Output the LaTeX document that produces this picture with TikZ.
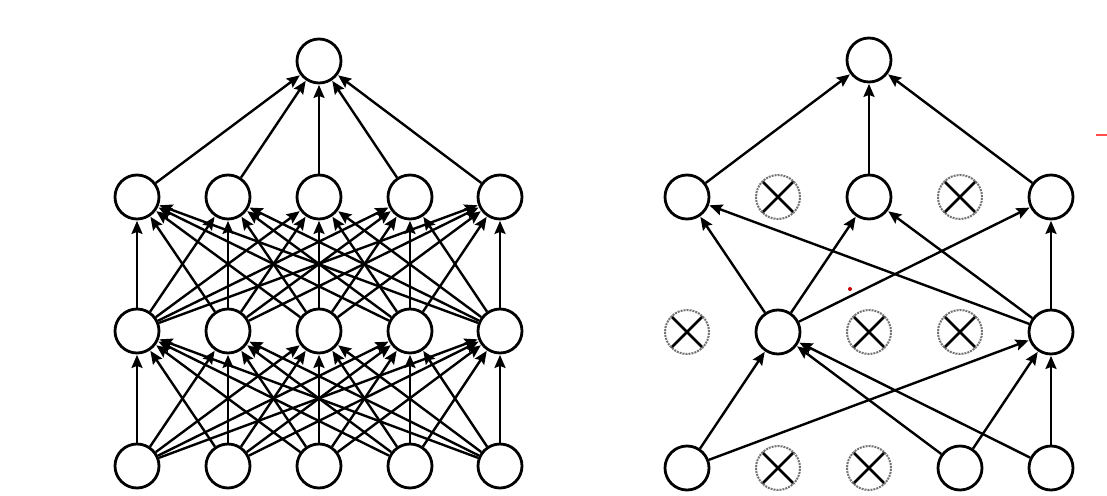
\documentclass[tikz,border=0pt]{standalone}
\usetikzlibrary{arrows.meta}
\begin{document}
\begin{tikzpicture}[x=1pt,y=-1pt,
  neuron/.style={circle,draw=black,line width=2.8pt,fill=white,minimum size=44pt,inner sep=0pt},
  dropped/.style={circle,draw=black!55,densely dotted,line width=2pt,fill=white,minimum size=44pt,inner sep=0pt,
    path picture={\draw[black,solid,line width=2.6pt] (path picture bounding box.south west)--(path picture bounding box.north east)
      (path picture bounding box.north west)--(path picture bounding box.south east);}},
  conn/.style={line width=2.4pt,-{Stealth[length=13pt,width=11pt,inset=2pt]},shorten >=0.5pt}]
\useasboundingbox[fill=white] (0,0) rectangle (1107,495);
% left network
\node[neuron] (Lt) at (319,61) {};
\foreach \c/\x in {1/137,2/228,3/319,4/410,5/500}{
  \node[neuron] (Lh2\c) at (\x,197) {};
  \node[neuron] (Lh1\c) at (\x,331) {};
  \node[neuron] (Li\c) at (\x,466) {};
}
\foreach \a in {1,...,5}{
  \draw[conn] (Lh2\a) -- (Lt);
  \foreach \b in {1,...,5}{
    \draw[conn] (Lh1\a) -- (Lh2\b);
    \draw[conn] (Li\a) -- (Lh1\b);
  }
}
% right network
\node[neuron] (Rt) at (869,60) {};
\node[neuron] (Rh21) at (687,197) {};
\node[dropped] (Rh22) at (778,197) {};
\node[neuron] (Rh23) at (869,197) {};
\node[dropped] (Rh24) at (960,197) {};
\node[neuron] (Rh25) at (1051,197) {};
\node[dropped] (Rh11) at (687,332) {};
\node[neuron] (Rh12) at (778,332) {};
\node[dropped] (Rh13) at (869,332) {};
\node[dropped] (Rh14) at (960,332) {};
\node[neuron] (Rh15) at (1051,332) {};
\node[neuron] (Ri1) at (687,468) {};
\node[dropped] (Ri2) at (778,468) {};
\node[dropped] (Ri3) at (869,468) {};
\node[neuron] (Ri4) at (960,468) {};
\node[neuron] (Ri5) at (1051,468) {};
\foreach \a in {1,3,5}{
  \draw[conn] (Rh2\a) -- (Rt);
  \foreach \b in {2,5}{
    \draw[conn] (Rh1\b) -- (Rh2\a);
  }
}
\foreach \a in {1,4,5}{
  \foreach \b in {2,5}{
    \draw[conn] (Ri\a) -- (Rh1\b);
  }
}
% stray marks
\fill[red!80!black] (850,289) circle (2pt);
\coordinate (m1) at (1096,135);
\coordinate (m2) at (1107,135);
\draw[red!70,line width=2pt] (m1) -- (m2);
\end{tikzpicture}
\end{document}
